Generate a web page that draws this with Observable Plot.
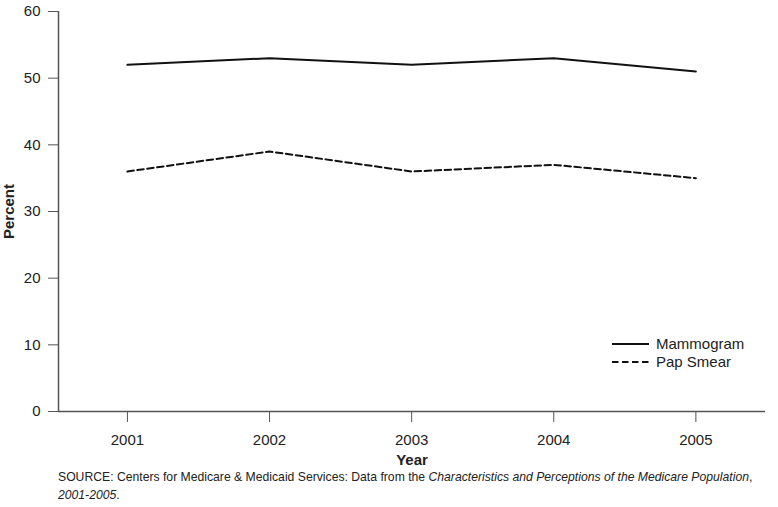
<!DOCTYPE html>
<html>
<head>
<meta charset="utf-8">
<script src="https://cdn.jsdelivr.net/npm/d3@7"></script>
<script src="https://cdn.jsdelivr.net/npm/@observablehq/plot@0.6"></script>
<style>
  html, body { margin: 0; padding: 0; background: #fff; }
  body { font-family: "Liberation Sans", Arial, Helvetica, sans-serif; width: 778px; }
  #wrap { position: relative; width: 778px; }
  #legend { position: absolute; left: 612px; top: 335px; font-size: 15px; color: #222; line-height: 18px; }
  #legend div { display: flex; align-items: center; }
  #legend svg { margin-right: 7px; }
  #caption { margin-left: 58px; margin-top: -2px; font-size: 12.2px; color: #222; line-height: 18px; white-space: nowrap; }
</style>
</head>
<body>
<div id="wrap">
  <div id="chart"></div>
  <div id="legend"></div>
</div>
<div id="caption">SOURCE: Centers for Medicare &amp; Medicaid Services: Data from the <i>Characteristics and Perceptions of the Medicare Population</i>,<br><i>2001-2005</i>.</div>
<script>
const years = [2001, 2002, 2003, 2004, 2005];
const mammogram = [52, 53, 52, 53, 51];
const papSmear = [36, 39, 36, 37, 35];
const seriesNames = ["Mammogram", "Pap Smear"];
const seriesDash = ["none", "6.5,3.5"];
const yTicks = [0, 10, 20, 30, 40, 50, 60];

const data = [];
years.forEach((y, i) => {
  data.push({year: y, value: mammogram[i], series: seriesNames[0]});
  data.push({year: y, value: papSmear[i], series: seriesNames[1]});
});

const xDomain = [2000.515, 2005.49];
const axisColor = "#555";

const chart = Plot.plot({
  width: 778,
  height: 470,
  marginLeft: 58,
  marginRight: 13,
  marginTop: 11,
  marginBottom: 59,
  style: {fontFamily: "Liberation Sans, Arial, Helvetica, sans-serif", fontSize: "15px", color: "#222", background: "#fff"},
  x: {domain: xDomain, label: null},
  y: {domain: [0, 60], label: null},
  marks: [
    Plot.axisX({ticks: years, tickFormat: d => String(d), tickSize: 11, tickPadding: 12, stroke: axisColor, label: null, fontSize: 15, fill: "#222"}),
    Plot.axisY({ticks: yTicks, tickSize: 10, tickPadding: 8, stroke: axisColor, label: null, fontSize: 15, fill: "#222"}),
    Plot.ruleX([xDomain[0]], {stroke: axisColor, strokeWidth: 1.5}),
    Plot.ruleY([0], {stroke: axisColor, strokeWidth: 1.5}),
    Plot.line(data.filter(d => d.series === seriesNames[0]), {x: "year", y: "value", stroke: "#111", strokeWidth: 2}),
    Plot.line(data.filter(d => d.series === seriesNames[1]), {x: "year", y: "value", stroke: "#111", strokeWidth: 2, strokeDasharray: seriesDash[1]}),
    Plot.text(["Year"], {frameAnchor: "bottom", dy: 53, fontWeight: "bold", fontSize: 15, fill: "#222"}),
    Plot.text(["Percent"], {frameAnchor: "left", textAnchor: "middle", dx: -49, rotate: -90, fontWeight: "bold", fontSize: 15, fill: "#222"})
  ]
});
document.getElementById("chart").appendChild(chart);

const legend = document.getElementById("legend");
seriesNames.forEach((name, i) => {
  const row = document.createElement("div");
  row.innerHTML = `<svg width="37" height="4"><line x1="0" y1="2" x2="37" y2="2" stroke="#111" stroke-width="2" ${seriesDash[i] !== "none" ? `stroke-dasharray="${seriesDash[i]}"` : ""}/></svg><span>${name}</span>`;
  legend.appendChild(row);
});
</script>
</body>
</html>
